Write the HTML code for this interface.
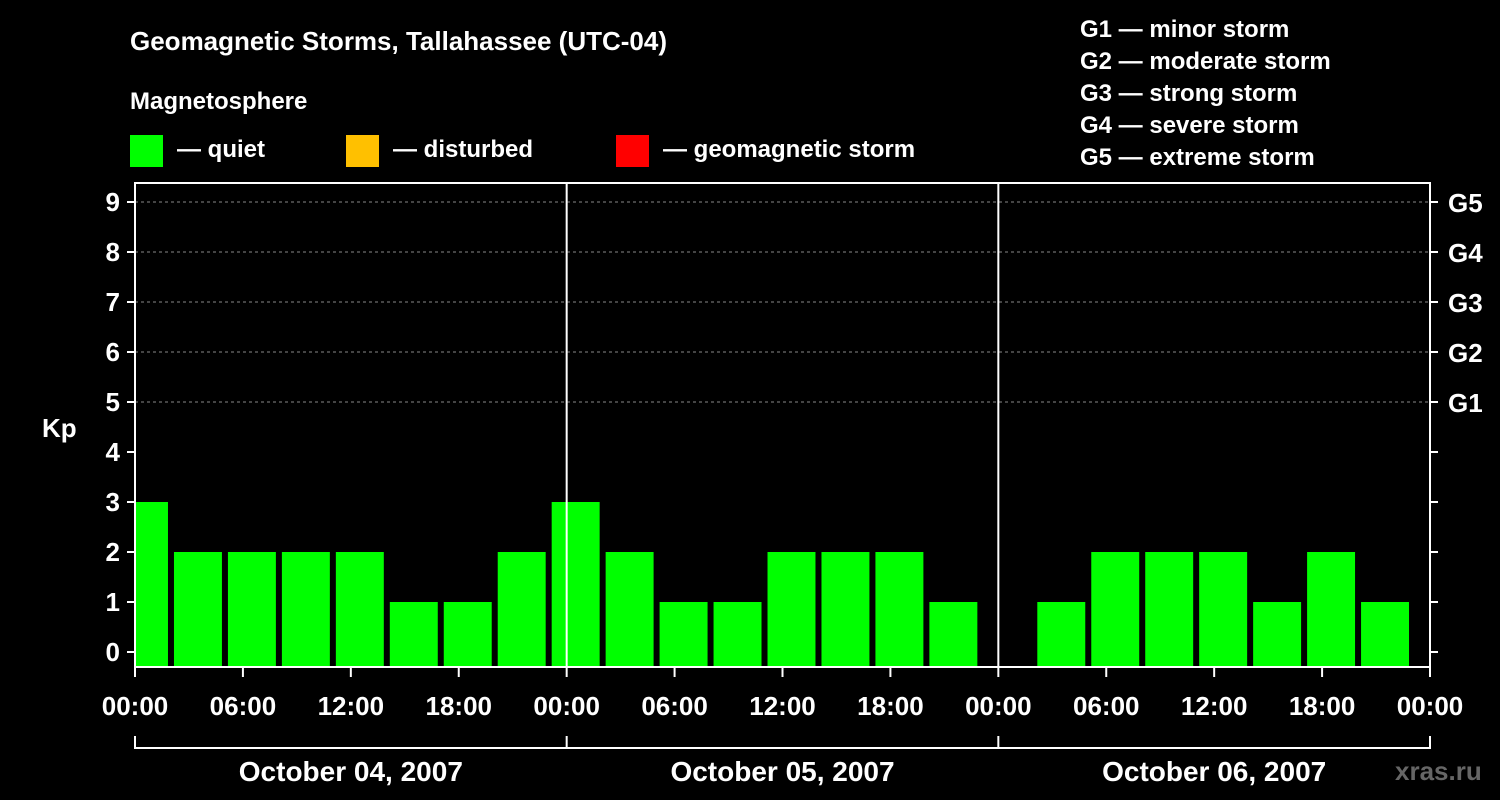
<!DOCTYPE html>
<html><head><meta charset="utf-8"><style>
html,body{margin:0;padding:0;background:#000;}
svg{display:block;font-family:"Liberation Sans",sans-serif;font-weight:bold;}
</style></head><body>
<svg id="chart" width="1500" height="800" viewBox="0 0 1500 800">
<rect width="1500" height="800" fill="#000"/>
<text x="130" y="50" fill="#fff" font-size="26">Geomagnetic Storms, Tallahassee (UTC-04)</text>
<text x="130" y="109" fill="#fff" font-size="24">Magnetosphere</text>
<g><rect x="130" y="135" width="33" height="32" fill="#00ff00"/><text x="177" y="157" fill="#fff" font-size="24">— quiet</text></g>
<g><rect x="346" y="135" width="33" height="32" fill="#ffc000"/><text x="393" y="157" fill="#fff" font-size="24">— disturbed</text></g>
<g><rect x="616" y="135" width="33" height="32" fill="#ff0000"/><text x="663" y="157" fill="#fff" font-size="24">— geomagnetic storm</text></g>
<g fill="#fff" font-size="24">
<text x="1080" y="37">G1 — minor storm</text>
<text x="1080" y="69">G2 — moderate storm</text>
<text x="1080" y="101">G3 — strong storm</text>
<text x="1080" y="133">G4 — severe storm</text>
<text x="1080" y="165">G5 — extreme storm</text>
</g>
<text x="42" y="437" fill="#fff" font-size="26">Kp</text>
<text x="1395" y="780" fill="#666" font-size="26">xras.ru</text>
<g id="grid"></g><g id="bars"></g><g id="axes"></g>
</svg>
<script>
const kpValues=[3,2,2,2,2,1,1,2,3,2,1,1,2,2,2,1,null,1,2,2,2,1,2,1,null];
const yTicks=[0,1,2,3,4,5,6,7,8,9];
const gLabels=["G1","G2","G3","G4","G5"];
const gLevels=[5,6,7,8,9];
const xTickLabels=["00:00","06:00","12:00","18:00","00:00","06:00","12:00","18:00","00:00","06:00","12:00","18:00","00:00"];
const dayLabels=["October 04, 2007","October 05, 2007","October 06, 2007"];
const slotOffset=-1, slotHours=3;
const L=135,R=1430,T=183,B=667;
const x=h=>L+h*(R-L)/72;
const y=v=>652-v*50;
const NS="http://www.w3.org/2000/svg";
function mk(tag,attrs,parent){const e=document.createElementNS(NS,tag);for(const k in attrs)e.setAttribute(k,attrs[k]);parent.appendChild(e);return e;}
const grid=document.getElementById('grid'),bars=document.getElementById('bars'),axes=document.getElementById('axes');
gLevels.forEach((lv,i)=>{
 const l=mk('line',{x1:L,x2:R,y1:y(lv),y2:y(lv),stroke:'#888','stroke-dasharray':'3,3','stroke-width':1},grid);
 
 
 const t=mk('text',{x:1448,y:y(lv)+10,fill:'#fff','font-size':26},axes);t.textContent=gLabels[i];
 
 
});
kpValues.forEach((v,i)=>{
 if(v===null)return;
 const s=slotOffset+i*slotHours;
 let x0=x(s)+3,x1=x(s+slotHours)-3;
 x0=Math.max(x0,L+1);x1=Math.min(x1,R-1);
 if(x1<=x0)return;
 const r=mk('rect',{x:x0,y:y(v),width:x1-x0,height:B-y(v),fill:v>=5?'#ff0000':(v>=4?'#ffc000':'#00ff00')},bars);
 
 
});
const frame=mk('rect',{x:L,y:T,width:R-L,height:B-T,fill:'none',stroke:'#fff','stroke-width':2},axes);


[1,2].forEach(d=>{const l=mk('line',{x1:x(d*24),x2:x(d*24),y1:T,y2:B,stroke:'#fff','stroke-width':2},axes);
 
 });
yTicks.forEach(v=>{
 mk('line',{x1:L-8,x2:L,y1:y(v),y2:y(v),stroke:'#fff','stroke-width':2},axes);
 mk('line',{x1:R,x2:R+8,y1:y(v),y2:y(v),stroke:'#fff','stroke-width':2},axes);
 const t=mk('text',{x:L-15,y:y(v)+9,fill:'#fff','font-size':26,'text-anchor':'end'},axes);t.textContent=v;
 
 
});
xTickLabels.forEach((lab,i)=>{
 const xx=x(i*6);
 mk('line',{x1:xx,x2:xx,y1:B,y2:B+10,stroke:'#fff','stroke-width':2},axes);
 const t=mk('text',{x:xx,y:715,fill:'#fff','font-size':26,'text-anchor':'middle'},axes);t.textContent=lab;
 
 
});
mk('line',{x1:L,x2:R,y1:748,y2:748,stroke:'#fff','stroke-width':2},axes);
for(let d=0;d<=3;d++)mk('line',{x1:x(d*24),x2:x(d*24),y1:736,y2:749,stroke:'#fff','stroke-width':2},axes);
dayLabels.forEach((lab,d)=>{
 const t=mk('text',{x:x(d*24+12),y:781,fill:'#fff','font-size':28,'text-anchor':'middle'},axes);t.textContent=lab;
 
 
});
</script>
</body></html>
